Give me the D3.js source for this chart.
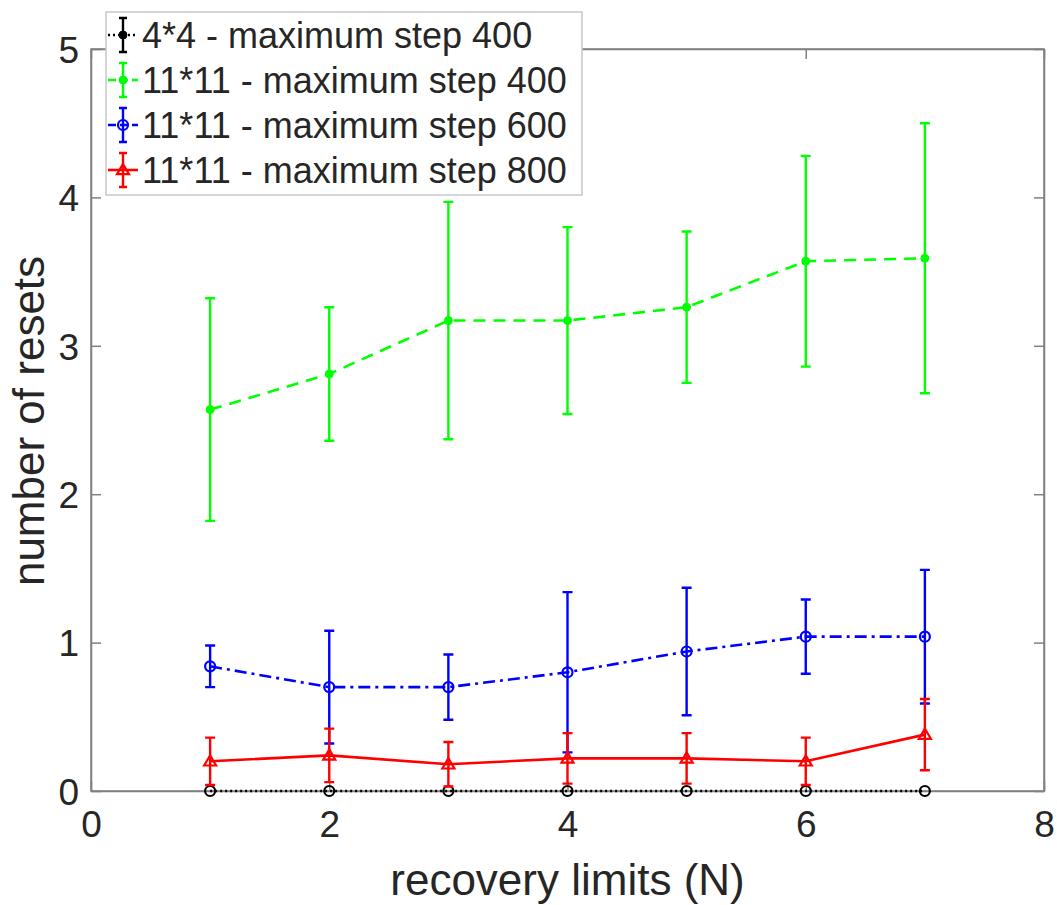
<!DOCTYPE html>
<html><head><meta charset="utf-8">
<script src="https://cdn.jsdelivr.net/npm/d3@7"></script>
<style>body{margin:0;background:#fff;} svg{display:block;} text{font-family:"Liberation Sans",Arial,sans-serif;fill:#262626;}</style>
</head><body><svg id="c" width="1057" height="905"></svg>
<script>
const xValues = [1, 2, 3, 4, 5, 6, 7];
const seriesNames = ["4*4 - maximum step 400", "11*11 - maximum step 400", "11*11 - maximum step 600", "11*11 - maximum step 800"];
const blackMean = [0, 0, 0, 0, 0, 0, 0];
const blackErr  = [0, 0, 0, 0, 0, 0, 0];
const greenMean = [2.57, 2.81, 3.17, 3.17, 3.26, 3.57, 3.59];
const greenErr  = [0.75, 0.45, 0.80, 0.63, 0.51, 0.71, 0.91];
const blueMean  = [0.84, 0.70, 0.70, 0.80, 0.94, 1.04, 1.04];
const blueErr   = [0.14, 0.38, 0.22, 0.54, 0.43, 0.25, 0.45];
const redMean   = [0.20, 0.24, 0.18, 0.22, 0.22, 0.20, 0.38];
const redErr    = [0.16, 0.18, 0.15, 0.17, 0.17, 0.16, 0.24];
const xTicks = [0, 2, 4, 6, 8];
const yTicks = [0, 1, 2, 3, 4, 5];
const xLabel = "recovery limits (N)";
const yLabel = "number of resets";

const styles = [
  {color:"#000000", dash:"2,3", marker:"circle", mean:blackMean, err:blackErr},
  {color:"#00ff00", dash:"12,8", marker:"dot", mean:greenMean, err:greenErr},
  {color:"#0000ff", dash:"12,5,3,5", marker:"circle", mean:blueMean, err:blueErr},
  {color:"#ff0000", dash:null, marker:"triangle", mean:redMean, err:redErr}
];

const svg = d3.select("#c");
const L = 91, R = 1044, T = 49, B = 791;
const x = d3.scaleLinear().domain([0, 8]).range([L, R]);
const y = d3.scaleLinear().domain([0, 5]).range([B, T]);
const axisColor = "#808080";

svg.append("rect").attr("x", L).attr("y", T).attr("width", R - L).attr("height", B - T)
  .attr("fill", "none").attr("stroke", axisColor).attr("stroke-width", 1.5);

const g = svg.append("g");
const xb = g.append("g").attr("transform", `translate(0,${B})`)
  .call(d3.axisBottom(x).tickValues(xTicks).tickFormat(d3.format("d")).tickSizeInner(-10).tickSizeOuter(0).tickPadding(20));
const xt = g.append("g").attr("transform", `translate(0,${T})`)
  .call(d3.axisTop(x).tickValues(xTicks).tickSizeInner(-10).tickSizeOuter(0).tickFormat(""));
const yl = g.append("g").attr("transform", `translate(${L},0)`)
  .call(d3.axisLeft(y).tickValues(yTicks).tickFormat(d3.format("d")).tickSizeInner(-10).tickSizeOuter(0).tickPadding(12));
const yr = g.append("g").attr("transform", `translate(${R},0)`)
  .call(d3.axisRight(y).tickValues(yTicks).tickSizeInner(-10).tickSizeOuter(0).tickFormat(""));
[xb, xt, yl, yr].forEach(a => {
  a.select(".domain").attr("stroke", axisColor).attr("stroke-width", 1.5);
  a.selectAll(".tick line").attr("stroke", axisColor).attr("stroke-width", 1.5);
  a.selectAll("text").attr("font-size", 37).attr("fill", "#262626")
    .style("font-family", '"Liberation Sans", Arial, sans-serif');
});
xb.selectAll("text").attr("dy", "0.71em");
yl.selectAll("text").attr("dy", "0.36em");

svg.append("text").attr("x", (L + R) / 2).attr("y", 895).attr("text-anchor", "middle")
  .attr("font-size", 44).text(xLabel);
svg.append("text").attr("transform", `translate(44,421) rotate(-90)`).attr("text-anchor", "middle")
  .attr("font-size", 44).text(yLabel);

function drawMarker(sel, type, color, cx, cy) {
  if (type === "circle") {
    sel.append("circle").attr("cx", cx).attr("cy", cy).attr("r", 5)
      .attr("fill", "none").attr("stroke", color).attr("stroke-width", 2.2);
  } else if (type === "dot") {
    sel.append("circle").attr("cx", cx).attr("cy", cy).attr("r", 4)
      .attr("fill", color).attr("stroke", color).attr("stroke-width", 1);
  } else {
    const s = 6;
    sel.append("path").attr("d", `M${cx},${cy - s}L${cx + s},${cy + s * 0.7}L${cx - s},${cy + s * 0.7}Z`)
      .attr("fill", "none").attr("stroke", color).attr("stroke-width", 2.2);
  }
}

const plot = svg.append("g");
styles.forEach(s => {
  const pts = xValues.map((xv, i) => ({x: xv, m: s.mean[i], e: s.err[i]}));
  const sg = plot.append("g");
  const line = d3.line().x(d => x(d.x)).y(d => y(d.m));
  sg.append("path").datum(pts).attr("d", line).attr("fill", "none")
    .attr("stroke", s.color).attr("stroke-width", 2.6)
    .attr("stroke-dasharray", s.dash);
  pts.forEach(d => {
    if (d.e > 0) {
      const cx = x(d.x), y1 = y(d.m + d.e), y0 = y(d.m - d.e), cw = 5;
      sg.append("path").attr("d", `M${cx},${y1}V${y0}M${cx - cw},${y1}H${cx + cw}M${cx - cw},${y0}H${cx + cw}`)
        .attr("fill", "none").attr("stroke", s.color).attr("stroke-width", 2.4);
    }
    drawMarker(sg, s.marker, s.color, x(d.x), y(d.m));
  });
});

const lg = svg.append("g");
lg.append("rect").attr("x", 106).attr("y", 12).attr("width", 476).attr("height", 183)
  .attr("fill", "#fff").attr("stroke", "#c8c8c8").attr("stroke-width", 1.5);
styles.forEach((s, i) => {
  const cy = 35 + i * 45, cx = 123;
  lg.append("line").attr("x1", 108).attr("x2", 138).attr("y1", cy).attr("y2", cy)
    .attr("stroke", s.color).attr("stroke-width", 2.6).attr("stroke-dasharray", s.dash ? (i === 0 ? "2,3" : "8,4") : null);
  lg.append("path").attr("d", `M${cx},${cy - 17}V${cy + 17}M${cx - 4},${cy - 17}H${cx + 4}M${cx - 4},${cy + 17}H${cx + 4}`)
    .attr("stroke", s.color).attr("stroke-width", 2.4).attr("fill", "none");
  drawMarker(lg, s.marker === "circle" && i === 0 ? "dot" : s.marker, s.color, cx, cy);
  lg.append("text").attr("x", 142).attr("y", cy + 13).attr("font-size", 36).text(seriesNames[i]);
});
</script></body></html>
